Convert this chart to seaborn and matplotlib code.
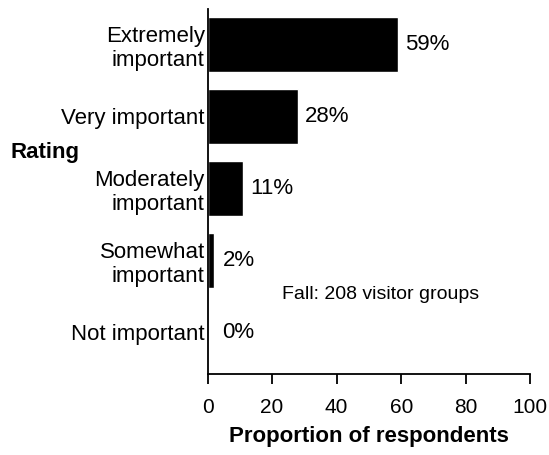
import numpy as np
import pandas as pd
import matplotlib
matplotlib.use('Agg')
import matplotlib.pyplot as plt
import seaborn as sns

# Rating categories and share of respondents (%)
ratings = ['Extremely\nimportant', 'Very important', 'Moderately\nimportant',
           'Somewhat\nimportant', 'Not important']
proportions = [59, 28, 11, 2, 0]
value_labels = ['59%', '28%', '11%', '2%', '0%']

df = pd.DataFrame({'Rating': ratings, 'Proportion': proportions})

sns.set_style('ticks')
plt.rcParams['font.family'] = ['Liberation Sans', 'DejaVu Sans']
plt.rcParams['text.color'] = 'black'
plt.rcParams['xtick.color'] = 'black'
plt.rcParams['ytick.color'] = 'black'
plt.rcParams['axes.labelcolor'] = 'black'

fig = plt.figure(figsize=(5.49, 4.55), dpi=100)
ax = fig.add_axes([0.378, 0.178, 0.588, 0.802])

sns.barplot(data=df, x='Proportion', y='Rating', orient='h', color='black',
            width=0.76, saturation=1, ax=ax)

# percentage labels beside each bar (tiny bars get a minimum position)
for i, (v, lab) in enumerate(zip(proportions, value_labels)):
    ax.annotate(lab, xy=(max(v, 2.5), i), xytext=(5, 0),
                textcoords='offset points', va='center', ha='left', fontsize=16)

ax.set_xlim(0, 100)
ax.set_ylim(4.58, -0.49)
ax.set_xticks([0, 20, 40, 60, 80, 100])
ax.tick_params(axis='x', labelsize=15, length=7, width=1.3, direction='out', pad=10)
ax.tick_params(axis='y', length=0, labelsize=16, pad=2)
for t in ax.get_yticklabels():
    t.set_multialignment('right')

ax.set_xlabel('Proportion of respondents', fontsize=16, fontweight='bold', labelpad=7)
ax.set_ylabel('')
for s in ['left', 'bottom']:
    ax.spines[s].set_linewidth(1.3)
    ax.spines[s].set_color('black')
sns.despine(ax=ax)

fig.text(0.02, 0.664, 'Rating', fontsize=16, fontweight='bold', va='center', ha='left')
ax.text(23, 3.47, 'Fall: 208 visitor groups', fontsize=14, ha='left', va='center')

fig.savefig('out.png', dpi=100)
